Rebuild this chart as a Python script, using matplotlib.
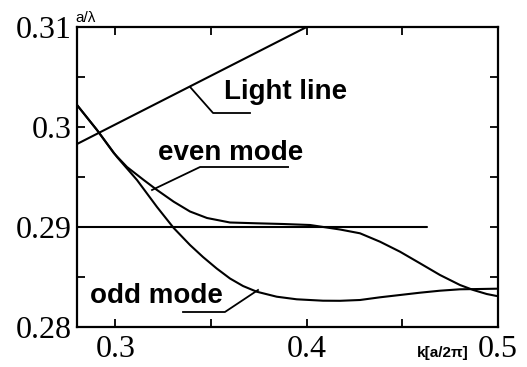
import matplotlib
matplotlib.use("Agg")
import matplotlib.pyplot as plt
from matplotlib.ticker import FixedLocator

# ---- data ----
light_k = [0.28, 0.40]
light_f = [0.2983, 0.310]

ref_k = [0.28, 0.463]
ref_f = [0.290, 0.290]

even_k = [0.28000, 0.29045, 0.29918, 0.30613, 0.31486, 0.32181, 0.33053, 0.33905,
          0.34794, 0.35995, 0.37391, 0.38765, 0.40176, 0.41221, 0.41743, 0.42789,
          0.43834, 0.44879, 0.45924, 0.46969, 0.48014, 0.48710, 0.49409, 0.49932]
even_f = [0.3022, 0.2997, 0.2974, 0.2960, 0.2947, 0.2937, 0.29253, 0.29155,
          0.2909, 0.29045, 0.29037, 0.2903, 0.2902, 0.2899, 0.28975, 0.28937,
          0.28853, 0.28753, 0.28637, 0.2852, 0.2842, 0.2837, 0.2833, 0.2831]

odd_k = [0.28000, 0.29045, 0.30090, 0.31135, 0.32181, 0.33053, 0.33905, 0.34584,
         0.35300, 0.35995, 0.36675, 0.37391, 0.38436, 0.39481, 0.40855, 0.41743,
         0.42789, 0.43834, 0.44879, 0.45924, 0.46969, 0.48014, 0.49059, 0.49932]
odd_f = [0.3022, 0.2997, 0.2970, 0.2947, 0.2920, 0.2899, 0.2882, 0.2870,
         0.28585, 0.28485, 0.2841, 0.28353, 0.28303, 0.28277, 0.28263, 0.28262,
         0.2827, 0.28297, 0.2832, 0.28343, 0.28363, 0.28377, 0.2838, 0.28383]

x_ticks = [0.30, 0.35, 0.40, 0.45, 0.50]
x_tick_labels = ["0.3", "", "0.4", "", "0.5"]
y_ticks = [0.28, 0.29, 0.30, 0.31]
y_tick_labels = ["0.28", "0.29", "0.3", "0.31"]
y_minor = [0.285, 0.295, 0.305]

labels = ["Light line", "even mode", "odd mode"]
label_pos = [(0.3890, 0.3028), (0.3605, 0.2967), (0.3215, 0.2824)]
leaders = [
    ([0.3391, 0.3511, 0.3704], [0.3040, 0.3014, 0.3014]),
    ([0.3192, 0.3443, 0.3903], [0.2937, 0.2960, 0.2960]),
    ([0.3746, 0.3573, 0.3354], [0.2837, 0.2815, 0.2815]),
]

# ---- figure ----
fig = plt.figure(figsize=(5.27, 3.67), dpi=100)
ax = fig.add_axes([77/527, 40/367, 421/527, 300/367])

lw = 1.5
style = dict(color="black", lw=lw, solid_joinstyle="round", solid_capstyle="round")
ax.plot(light_k, light_f, **style)
ax.plot(ref_k, ref_f, **style)
ax.plot(even_k, even_f, **style)
ax.plot(odd_k, odd_f, **style)

for (lx, ly) in leaders:
    ax.plot(lx, ly, color="black", lw=1.3)

for txt, (tx, ty) in zip(labels, label_pos):
    ax.text(tx, ty, txt, ha="center", va="baseline", fontsize=20,
            fontweight="bold", family="Liberation Sans")

ax.set_xlim(0.28, 0.5)
ax.set_ylim(0.28, 0.31)

ax.xaxis.set_major_locator(FixedLocator(x_ticks))
ax.set_xticklabels(x_tick_labels)
ax.yaxis.set_major_locator(FixedLocator(y_ticks))
ax.set_yticklabels(y_tick_labels)
ax.yaxis.set_minor_locator(FixedLocator(y_minor))

for lab in ax.get_xticklabels() + ax.get_yticklabels():
    lab.set_family("Liberation Serif")
    lab.set_fontsize(23)

ax.tick_params(which="both", direction="in", top=True, right=True,
               length=6, width=1.3, color="black")
ax.tick_params(axis="x", pad=6)
ax.tick_params(axis="y", pad=4)

for s in ax.spines.values():
    s.set_linewidth(1.6)
    s.set_color("black")

ax.text(0.020, 1.017, "a/λ", transform=ax.transAxes, ha="center",
        va="baseline", fontsize=11, family="Liberation Sans")
ax.text(0.869, -0.087, "k[a/2π]", transform=ax.transAxes, ha="center",
        va="center", fontsize=11, fontweight="bold", family="Liberation Sans")

fig.savefig("out.png", dpi=100)
